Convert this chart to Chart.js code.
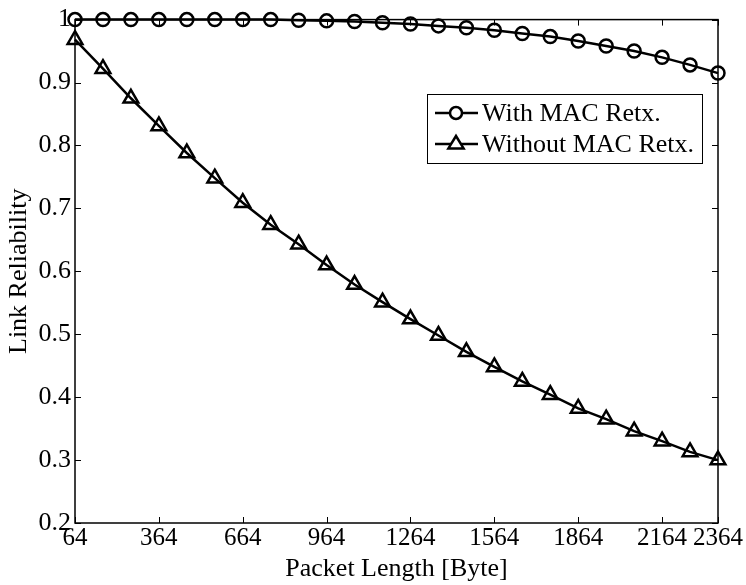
<!DOCTYPE html>
<html><head><meta charset="utf-8">
<script src="https://cdn.jsdelivr.net/npm/chart.js@4.4.1/dist/chart.umd.min.js"></script>
<style>html,body{margin:0;padding:0;background:#fff}#wrap{width:746px;height:585px}</style>
</head><body><div id="wrap"><canvas id="c" width="746" height="585"></canvas></div>
<script>
const packetLengths = [64,164,264,364,464,564,664,764,864,964,1064,1164,1264,1364,1464,1564,1664,1764,1864,1964,2064,2164,2264,2364];
const withRetx = [1.0,1.0,1.0,1.0,1.0,1.0,1.0,1.0,0.999,0.998,0.997,0.995,0.993,0.990,0.987,0.983,0.978,0.973,0.966,0.958,0.950,0.940,0.928,0.915];
const withoutRetx = [0.968,0.922,0.875,0.831,0.788,0.748,0.709,0.674,0.643,0.610,0.579,0.551,0.524,0.498,0.472,0.448,0.425,0.404,0.382,0.365,0.346,0.330,0.313,0.300];
const xTicks = [64,364,664,964,1264,1564,1864,2164,2364];
const yTicks = [0.2,0.3,0.4,0.5,0.6,0.7,0.8,0.9,1.0];
const seriesLabels = ['With MAC Retx.','Without MAC Retx.'];

const FONT = 'Liberation Serif, Times New Roman, serif';

const framePlugin = {
  id: 'frame',
  afterDatasetsDraw(chart) {
    const {ctx, chartArea: a, scales: {x, y}} = chart;
    ctx.save();
    ctx.strokeStyle = '#000';
    ctx.lineWidth = 1.5;
    ctx.strokeRect(a.left, a.top, a.right - a.left, a.bottom - a.top);
    const L = 6;
    ctx.lineWidth = 1;
    ctx.beginPath();
    xTicks.forEach(v => {
      const px = Math.round(x.getPixelForValue(v)) + 0.5;
      ctx.moveTo(px, a.bottom); ctx.lineTo(px, a.bottom - L);
      ctx.moveTo(px, a.top); ctx.lineTo(px, a.top + L);
    });
    yTicks.forEach(v => {
      const py = Math.round(y.getPixelForValue(v)) + 0.5;
      ctx.moveTo(a.left, py); ctx.lineTo(a.left + L, py);
      ctx.moveTo(a.right, py); ctx.lineTo(a.right - L, py);
    });
    ctx.stroke();
    ctx.restore();
  },
  afterDraw(chart) {
    const {ctx} = chart;
    const bx = 427, by = 94, bw = 275, bh = 69;
    ctx.save();
    ctx.fillStyle = '#fff';
    ctx.fillRect(bx, by, bw, bh);
    ctx.strokeStyle = '#000';
    ctx.lineWidth = 1;
    ctx.strokeRect(bx + 0.5, by + 0.5, bw, bh);
    ctx.font = '26px ' + FONT;
    ctx.fillStyle = '#000';
    ctx.textBaseline = 'middle';
    const rows = [by + 19, by + 50];
    chart.data.datasets.forEach((ds, i) => {
      const yy = rows[i];
      ctx.lineWidth = 2.5;
      ctx.beginPath();
      ctx.moveTo(bx + 8, yy); ctx.lineTo(bx + 51, yy); ctx.stroke();
      const cx = bx + 29;
      ctx.beginPath();
      if (ds.pointStyle === 'circle') {
        ctx.arc(cx, yy, 6, 0, Math.PI * 2);
      } else {
        const r = 8;
        ctx.moveTo(cx, yy - r);
        ctx.lineTo(cx + r * 0.95, yy + r * 0.55);
        ctx.lineTo(cx - r * 0.95, yy + r * 0.55);
        ctx.closePath();
      }
      ctx.fillStyle = '#fff'; ctx.fill(); ctx.stroke();
      ctx.fillStyle = '#000';
      ctx.fillText(ds.label, bx + 55, yy + 1);
    });
    ctx.restore();
  }
};

new Chart(document.getElementById('c'), {
  type: 'line',
  data: {
    datasets: [
      { label: seriesLabels[0], data: packetLengths.map((v, i) => ({x: v, y: withRetx[i]})),
        borderColor: '#000', borderWidth: 2.5, pointStyle: 'circle', pointRadius: 6.5,
        pointBorderWidth: 2.5, pointBackgroundColor: 'rgba(255,255,255,0)', pointBorderColor: '#000', tension: 0 },
      { label: seriesLabels[1], data: packetLengths.map((v, i) => ({x: v, y: withoutRetx[i]})),
        borderColor: '#000', borderWidth: 2.5, pointStyle: 'triangle', pointRadius: 8.5,
        pointBorderWidth: 2.5, pointBackgroundColor: 'rgba(255,255,255,0)', pointBorderColor: '#000', tension: 0 }
    ]
  },
  options: {
    responsive: false, animation: false, devicePixelRatio: 1,
    layout: { padding: { top: 17, right: 28, left: 4, bottom: 0 } },
    plugins: { legend: { display: false }, tooltip: { enabled: false } },
    clip: false,
    scales: {
      x: {
        type: 'linear', min: 64, max: 2364,
        afterBuildTicks(s) { s.ticks = xTicks.map(v => ({value: v})); },
        afterFit(s) { s.height = 62; },
        grid: { display: false, drawTicks: false },
        border: { display: false },
        ticks: { color: '#000', font: { family: FONT, size: 25 }, padding: 0, maxRotation: 0, autoSkip: false,
                 callback: v => String(v) },
        title: { display: true, text: 'Packet Length [Byte]', color: '#000', font: { family: FONT, size: 26 }, padding: { top: -5, bottom: 0 } }
      },
      y: {
        type: 'linear', min: 0.2, max: 1.0,
        afterBuildTicks(s) { s.ticks = yTicks.map(v => ({value: v})); },
        afterFit(s) { s.width = 71; },
        grid: { display: false, drawTicks: false },
        border: { display: false },
        ticks: { color: '#000', font: { family: FONT, size: 26 }, padding: 4, autoSkip: false,
                 callback: v => (Math.abs(v - 1) < 1e-9 ? '1' : v.toFixed(1)) },
        title: { display: true, text: 'Link Reliability', color: '#000', font: { family: FONT, size: 26 }, padding: { top: 0, bottom: 0 } }
      }
    }
  },
  plugins: [framePlugin]
});
</script></body></html>
